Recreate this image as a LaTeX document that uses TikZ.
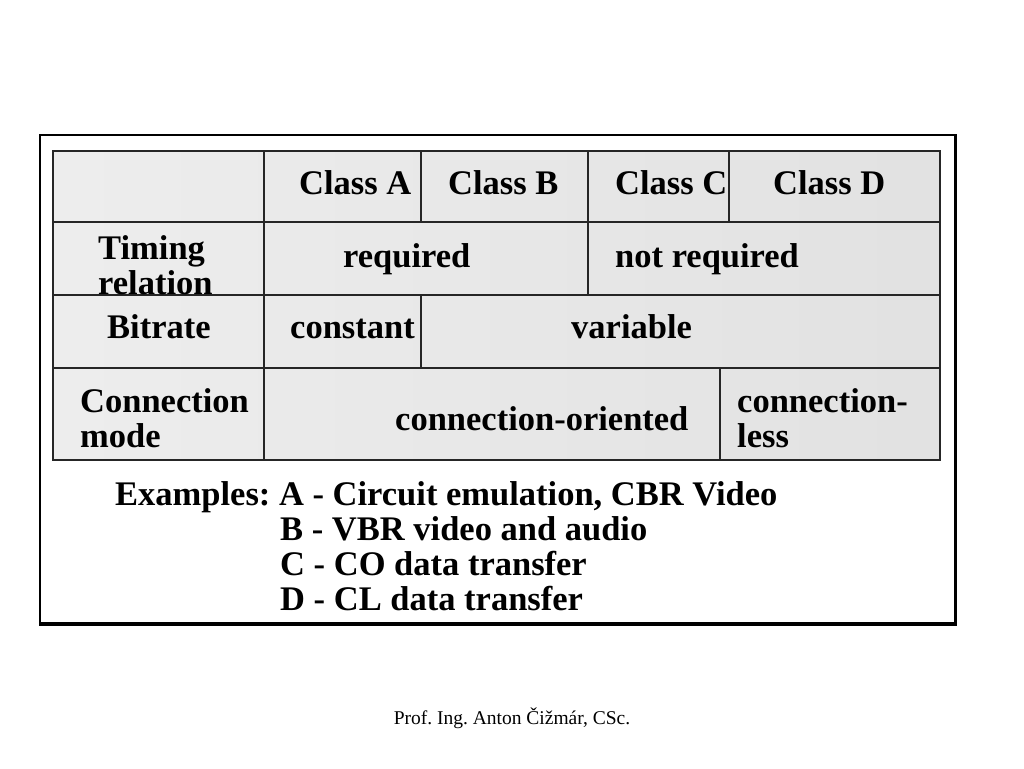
\documentclass[tikz,border=0pt]{standalone}
\usepackage{fontspec}
\setmainfont{Liberation Serif}
\frenchspacing
\begin{document}
\begin{tikzpicture}[x=1pt,y=-1pt,
  cell/.style={inner sep=0pt,anchor=base west,font=\fontsize{34.5}{36}\selectfont\bfseries},
  grid/.style={line width=1.6pt,draw=black!85}]
\useasboundingbox (0,0) rectangle (1024,768);
% outer frame
\draw[line width=1.5pt] (40,135) rectangle (955,623);
\draw[line width=3pt] (955.5,134) -- (955.5,624) -- (39,624);
% table background
\shade[left color=gray!14,right color=gray!23] (53,151) rectangle (940,460);
% grid
\draw[grid] (53,151) rectangle (940,460);
\draw[grid] (53,222) -- (940,222);
\draw[grid] (53,295) -- (940,295);
\draw[grid] (53,368) -- (940,368);
\draw[grid] (264,151) -- (264,460);
\draw[grid] (421,151) -- (421,222);
\draw[grid] (588,151) -- (588,295);
\draw[grid] (729,151) -- (729,222);
\draw[grid] (421,295) -- (421,368);
\draw[grid] (720,368) -- (720,460);
% header
\node[cell] (ca) at (299,194) {Class A};
\node[cell] (cb) at (448,194) {Class B};
\node[cell] (cc) at (615,194) {Class C};
\node[cell] (cd) at (773,194) {Class D};
% timing
\node[cell] (tr1) at (98,259) {Timing};
\node[cell] (tr2) at (98,294) {relation};
\node[cell] (req) at (343,267) {required};
\node[cell] (nreq) at (615,267) {not required};
% bitrate
\node[cell] (br) at (107,338) {Bitrate};
\node[cell] (const) at (290,338) {constant};
\node[cell] (var) at (571,338) {variable};
% connection mode
\node[cell] (cm1) at (80,412.5) {Connection};
\node[cell] (cm2) at (80,447.5) {mode};
\node[cell] (co) at (395,430) {connection-oriented};
\node[cell] (cl1) at (737,412.5) {connection-};
\node[cell] (cl2) at (737,447.5) {less};
% examples
\node[cell] (exa) at (115,505) {Examples: A - Circuit emulation, CBR Video};
\node[cell] (exb) at (280,540) {B - VBR video and audio};
\node[cell] (exc) at (280,575) {C - CO data transfer};
\node[cell] (exd) at (280,610) {D - CL data transfer};
% footer
\node[inner sep=0pt,anchor=base,font=\fontsize{19.5}{22}\selectfont] (ft) at (512,724) {Prof. Ing. Anton Čižmár, CSc.};
\end{tikzpicture}
\end{document}
